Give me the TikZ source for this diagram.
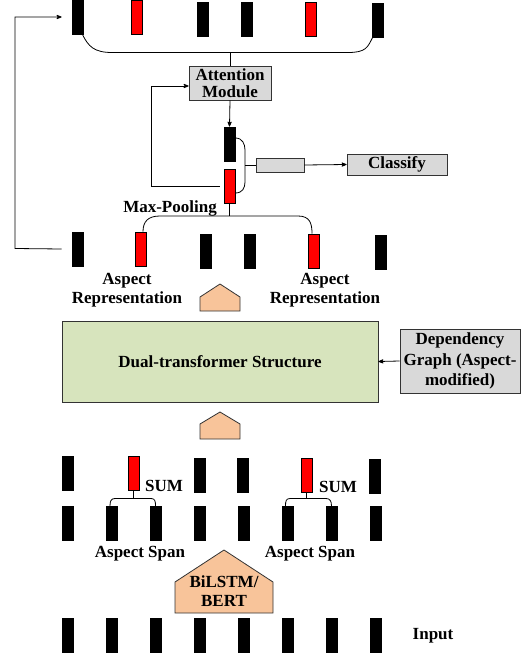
\documentclass[tikz,border=0pt]{standalone}
\usepackage{fontspec}
\setmainfont{Liberation Serif}
\usetikzlibrary{arrows,positioning,calc}
\definecolor{dualgreen}{HTML}{D7E4BD}
\definecolor{peach}{HTML}{F8C49A}
\definecolor{boxgray}{HTML}{D9D9D9}
\tikzset{
    bar/.style={
        rectangle,
        draw=black,
        fill=black,
        minimum width=11pt,
        minimum height=34pt,
        inner sep=0pt,
    },
    redbar/.style={
        bar,
        fill=red,
    },
    graybox/.style={
        rectangle,
        draw=black!80,
        fill=boxgray,
        inner sep=0pt,
        align=center,
    },
    house/.style={
        draw=black!80,
        fill=peach,
    },
    lbl/.style={
        align=center,
        inner sep=0pt,
    },
}

\begin{document}
\begin{tikzpicture}[x=1pt,y=-1pt,node distance=44pt,>=stealth',line width=0.8pt,
    font=\fontsize{17}{19}\selectfont\bfseries]
    \useasboundingbox (0,0) rectangle (522,658);
    % attended row
    \node [bar] (t1) at (77.5,17) {};
    \node [redbar] (t2) at (137,17) {};
    \node [bar] (t3) at (202.5,19) {};
    \node [bar] (t4) at (246.5,19) {};
    \node [redbar] (t5) at (310.5,19.5) {};
    \node [bar] (t6) at (377.5,20) {};
    \coordinate (topL) at (112,52.5);
    \coordinate (topR) at (348,52.5);
    \draw ([xshift=-1pt]t1.south east) .. controls +(6,12) and +(-18,0) .. (topL) -- (topR)
        .. controls +(18,0) and +(-5,10) .. ([xshift=1pt]t6.south west);
    \node [graybox, minimum width=82pt, minimum height=34pt,
        font=\fontsize{17}{16.5}\selectfont\bfseries] (att) at (230,83) {Attention\\Module};
    \draw (att.north) -- (att.north |- topL);
    % pooled pair
    \node [bar] (a1) at (229.5,144) {};
    \node [redbar] (a2) at (229.5,186) {};
    \draw[->] (att.south) -- (a1.north);
    \coordinate (brT) at (245,150);
    \coordinate (brB) at (245,182);
    \coordinate (brM) at (245,165);
    \draw ([yshift=6pt]a1.east) .. controls +(7,0) and +(0,-6) .. (brT) -- (brB)
        .. controls +(0,6) and +(7,0) .. ([yshift=-7pt]a2.east);
    \node [graybox, minimum width=48pt, minimum height=14pt] (vec) at (280,165) {};
    \node [graybox, minimum width=100pt, minimum height=21pt] (cls) at (397,164.5) {Classify};
    \draw (brM) -- (vec.west);
    \draw[->] (vec.east) -- (cls.west);
    \coordinate (fb1) at (151,186);
    \draw[->] ([xshift=-4pt]a2.west) -- (fb1) |- ([yshift=-3pt]att.west);
    \node [lbl] (mp) at (170,208) {Max-Pooling};
    % aspect representation row
    \node [bar] (m1) at (77.5,249) {};
    \node [redbar] (m2) at (140.5,249) {};
    \node [bar] (m3) at (205.5,251) {};
    \node [bar] (m4) at (249.5,251) {};
    \node [redbar] (m5) at (313.5,251) {};
    \node [bar] (m6) at (380.5,252.5) {};
    \coordinate (mpL) at (160,216);
    \coordinate (mpR) at (298,216);
    \draw ([xshift=2.5pt]m2.north) .. controls +(0,-10) and +(-12,0) .. (mpL) -- (mpR)
        .. controls +(12,0) and +(0,-10) .. ([xshift=-1.5pt]m5.north);
    \draw (a2.south) -- (a2.south |- mpL);
    \coordinate (fb2) at (15,248.5);
    \draw[->] ([xshift=-10pt]m1.west) -- (fb2) |- ([xshift=-10pt]t1.west);
    \node [lbl] (repL) at (127,290) {Aspect\\Representation};
    \node [lbl] (repR) at (325,290) {Aspect\\Representation};
    \draw[house] (200,311) -- (200,297) -- (220,284) -- (240,297) -- (240,311) -- cycle;
    % encoder
    \node [rectangle, draw=black!80, fill=dualgreen, minimum width=316pt, minimum height=81pt]
        (dual) at (220,361.5) {Dual-transformer Structure};
    \node [graybox, minimum width=120pt, minimum height=64pt,
        font=\fontsize{17}{20.5}\selectfont\bfseries] (dep) at (460,361) {Dependency\\Graph (Aspect-\\modified)};
    \draw[->] (dep.west) -- (dual.east);
    \draw[house] (200,439) -- (200,424) -- (220,412) -- (240,424) -- (240,439) -- cycle;
    % sum row
    \node [bar] (s1) at (67.5,473) {};
    \node [redbar] (s2) at (133.5,473) {};
    \node [bar] (s3) at (199.5,475) {};
    \node [bar] (s4) at (242.5,475) {};
    \node [redbar] (s5) at (306.5,475) {};
    \node [bar] (s6) at (374.5,476) {};
    \node [lbl] (sumL) at (164,486) {SUM};
    \node [lbl] (sumR) at (338,487) {SUM};
    % span row
    \node [bar] (p1) at (67.5,523.5) {};
    \node [bar] (p2) [right of=p1] {};
    \node [bar] (p3) [right of=p2] {};
    \node [bar] (p4) [right of=p3] {};
    \node [bar] (p5) [right of=p4] {};
    \node [bar] (p6) [right of=p5] {};
    \node [bar] (p7) [right of=p6] {};
    \node [bar] (p8) [right of=p7] {};
    \coordinate (sL1) at (115,498.5);
    \coordinate (sL2) at (151,498.5);
    \coordinate (sR1) at (290,498.5);
    \coordinate (sR2) at (326,498.5);
    \draw (s2.south) -- (s2.south |- sL1);
    \draw (s5.south) -- (s5.south |- sR1);
    \draw ([xshift=-1.5pt]p2.north) .. controls +(0,-5) and +(-4,0) .. (sL1) -- (sL2)
        .. controls +(4,0) and +(0,-5) .. (p3.north);
    \draw ([xshift=-2pt]p6.north) .. controls +(0,-5) and +(-4,0) .. (sR1) -- (sR2)
        .. controls +(4,0) and +(0,-5) .. (p7.north);
    \node [lbl] (spanL) at (140,554) {Aspect Span};
    \node [lbl] (spanR) at (310,554) {Aspect Span};
    \draw[house] (175,613) -- (175,582) -- (224,550) -- (273,582) -- (273,613) -- cycle;
    \node [lbl] (enc) at (224,591) {BiLSTM/\\BERT};
    % input row
    \node [bar] (i1) at (67.5,635) {};
    \node [bar] (i2) [right of=i1] {};
    \node [bar] (i3) [right of=i2] {};
    \node [bar] (i4) [right of=i3] {};
    \node [bar] (i5) [right of=i4] {};
    \node [bar] (i6) [right of=i5] {};
    \node [bar] (i7) [right of=i6] {};
    \node [bar] (i8) [right of=i7] {};
    \node [lbl] (inp) at (433,636) {Input};
\end{tikzpicture}
\end{document}
